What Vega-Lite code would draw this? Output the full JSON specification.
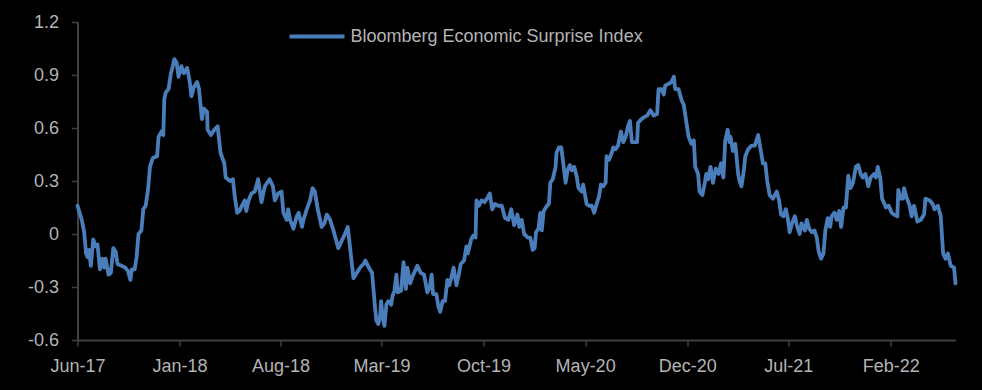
{
  "$schema": "https://vega.github.io/schema/vega-lite/v6.json",
  "width": 878,
  "height": 318,
  "autosize": {"type": "none"},
  "padding": {"left": 77.5, "top": 22, "right": 26.5, "bottom": 50},
  "background": "#000000",
  "config": {
    "view": {"stroke": null},
    "font": "Liberation Sans"
  },
  "data": {
    "values": [
      {"d":"2017-06-01","v":0.16},{"d":"2017-06-10","v":0.08},{"d":"2017-06-15","v":0.01},{"d":"2017-06-19","v":-0.11},{"d":"2017-06-22","v":-0.13},{"d":"2017-06-25","v":-0.09},{"d":"2017-06-29","v":-0.18},
      {"d":"2017-07-04","v":-0.03},{"d":"2017-07-09","v":-0.07},{"d":"2017-07-13","v":-0.06},{"d":"2017-07-18","v":-0.2},{"d":"2017-07-23","v":-0.14},{"d":"2017-07-27","v":-0.19},{"d":"2017-07-30","v":-0.14},
      {"d":"2017-08-05","v":-0.23},{"d":"2017-08-10","v":-0.22},{"d":"2017-08-15","v":-0.08},{"d":"2017-08-20","v":-0.1},{"d":"2017-08-24","v":-0.17},
      {"d":"2017-09-01","v":-0.18},{"d":"2017-09-09","v":-0.19},{"d":"2017-09-15","v":-0.21},{"d":"2017-09-20","v":-0.26},{"d":"2017-09-23","v":-0.2},{"d":"2017-09-29","v":-0.2},
      {"d":"2017-10-03","v":-0.13},{"d":"2017-10-07","v":0.0},{"d":"2017-10-13","v":0.02},{"d":"2017-10-17","v":0.14},{"d":"2017-10-22","v":0.16},{"d":"2017-10-27","v":0.25},{"d":"2017-10-31","v":0.38},
      {"d":"2017-11-06","v":0.43},{"d":"2017-11-15","v":0.44},{"d":"2017-11-18","v":0.55},{"d":"2017-11-24","v":0.58},{"d":"2017-11-28","v":0.56},{"d":"2017-11-30","v":0.76},
      {"d":"2017-12-03","v":0.8},{"d":"2017-12-09","v":0.82},{"d":"2017-12-14","v":0.91},{"d":"2017-12-18","v":0.95},{"d":"2017-12-21","v":0.99},{"d":"2017-12-26","v":0.97},{"d":"2017-12-30","v":0.89},
      {"d":"2018-01-05","v":0.95},{"d":"2018-01-10","v":0.91},{"d":"2018-01-17","v":0.94},{"d":"2018-01-22","v":0.87},{"d":"2018-01-26","v":0.78},{"d":"2018-01-31","v":0.83},
      {"d":"2018-02-07","v":0.86},{"d":"2018-02-11","v":0.82},{"d":"2018-02-17","v":0.65},{"d":"2018-02-21","v":0.71},{"d":"2018-02-28","v":0.69},
      {"d":"2018-03-01","v":0.59},{"d":"2018-03-08","v":0.56},{"d":"2018-03-15","v":0.59},{"d":"2018-03-22","v":0.61},{"d":"2018-03-28","v":0.46},
      {"d":"2018-04-05","v":0.4},{"d":"2018-04-08","v":0.32},{"d":"2018-04-17","v":0.3},{"d":"2018-04-23","v":0.31},{"d":"2018-04-27","v":0.21},
      {"d":"2018-05-02","v":0.12},{"d":"2018-05-07","v":0.13},{"d":"2018-05-12","v":0.16},{"d":"2018-05-18","v":0.19},{"d":"2018-05-21","v":0.13},{"d":"2018-05-26","v":0.19},
      {"d":"2018-06-01","v":0.23},{"d":"2018-06-08","v":0.24},{"d":"2018-06-15","v":0.31},{"d":"2018-06-22","v":0.18},{"d":"2018-06-29","v":0.27},
      {"d":"2018-07-09","v":0.31},{"d":"2018-07-16","v":0.27},{"d":"2018-07-20","v":0.19},{"d":"2018-07-27","v":0.23},
      {"d":"2018-08-03","v":0.24},{"d":"2018-08-07","v":0.12},{"d":"2018-08-14","v":0.08},{"d":"2018-08-17","v":0.14},{"d":"2018-08-21","v":0.08},{"d":"2018-08-28","v":0.03},
      {"d":"2018-09-04","v":0.1},{"d":"2018-09-08","v":0.12},{"d":"2018-09-15","v":0.04},{"d":"2018-09-18","v":0.08},{"d":"2018-09-25","v":0.14},
      {"d":"2018-10-02","v":0.19},{"d":"2018-10-07","v":0.26},{"d":"2018-10-12","v":0.24},{"d":"2018-10-18","v":0.14},{"d":"2018-10-23","v":0.08},{"d":"2018-10-26","v":0.04},
      {"d":"2018-11-01","v":0.06},{"d":"2018-11-06","v":0.11},{"d":"2018-11-13","v":0.08},{"d":"2018-11-20","v":0.02},{"d":"2018-11-27","v":-0.05},{"d":"2018-11-30","v":-0.08},
      {"d":"2018-12-07","v":-0.04},{"d":"2018-12-14","v":0.0},{"d":"2018-12-20","v":0.04},{"d":"2018-12-27","v":-0.13},
      {"d":"2019-01-01","v":-0.25},{"d":"2019-01-08","v":-0.22},{"d":"2019-01-15","v":-0.19},{"d":"2019-01-22","v":-0.17},{"d":"2019-01-26","v":-0.15},
      {"d":"2019-02-02","v":-0.19},{"d":"2019-02-09","v":-0.22},{"d":"2019-02-15","v":-0.41},{"d":"2019-02-18","v":-0.49},{"d":"2019-02-22","v":-0.51},{"d":"2019-02-26","v":-0.46},{"d":"2019-02-28","v":-0.38},
      {"d":"2019-03-03","v":-0.47},{"d":"2019-03-07","v":-0.52},{"d":"2019-03-11","v":-0.4},{"d":"2019-03-15","v":-0.38},{"d":"2019-03-21","v":-0.4},{"d":"2019-03-24","v":-0.35},{"d":"2019-03-28","v":-0.32},
      {"d":"2019-04-01","v":-0.23},{"d":"2019-04-04","v":-0.33},{"d":"2019-04-11","v":-0.32},{"d":"2019-04-16","v":-0.16},{"d":"2019-04-21","v":-0.31},{"d":"2019-04-24","v":-0.19},{"d":"2019-04-30","v":-0.28},
      {"d":"2019-05-05","v":-0.24},{"d":"2019-05-15","v":-0.18},{"d":"2019-05-22","v":-0.22},{"d":"2019-05-29","v":-0.23},
      {"d":"2019-06-05","v":-0.33},{"d":"2019-06-10","v":-0.3},{"d":"2019-06-14","v":-0.23},{"d":"2019-06-17","v":-0.34},{"d":"2019-06-24","v":-0.34},{"d":"2019-06-28","v":-0.41},
      {"d":"2019-07-02","v":-0.44},{"d":"2019-07-07","v":-0.38},{"d":"2019-07-12","v":-0.38},{"d":"2019-07-17","v":-0.26},{"d":"2019-07-21","v":-0.29},{"d":"2019-07-25","v":-0.25},{"d":"2019-07-30","v":-0.19},
      {"d":"2019-08-05","v":-0.29},{"d":"2019-08-10","v":-0.23},{"d":"2019-08-14","v":-0.17},{"d":"2019-08-21","v":-0.15},{"d":"2019-08-26","v":-0.07},{"d":"2019-08-29","v":-0.11},
      {"d":"2019-09-05","v":-0.03},{"d":"2019-09-09","v":-0.01},{"d":"2019-09-14","v":-0.02},{"d":"2019-09-16","v":0.19},{"d":"2019-09-21","v":0.16},{"d":"2019-09-27","v":0.19},
      {"d":"2019-10-03","v":0.18},{"d":"2019-10-10","v":0.21},{"d":"2019-10-14","v":0.23},{"d":"2019-10-19","v":0.14},{"d":"2019-10-25","v":0.17},{"d":"2019-10-31","v":0.16},
      {"d":"2019-11-08","v":0.16},{"d":"2019-11-15","v":0.09},{"d":"2019-11-22","v":0.08},{"d":"2019-11-28","v":0.14},
      {"d":"2019-12-04","v":0.05},{"d":"2019-12-11","v":0.11},{"d":"2019-12-15","v":0.04},{"d":"2019-12-20","v":0.08},{"d":"2019-12-25","v":0.0},
      {"d":"2020-01-02","v":-0.02},{"d":"2020-01-07","v":-0.02},{"d":"2020-01-12","v":-0.09},{"d":"2020-01-16","v":-0.08},{"d":"2020-01-19","v":0.01},{"d":"2020-01-24","v":0.03},{"d":"2020-01-28","v":0.12},{"d":"2020-01-31","v":0.02},
      {"d":"2020-02-04","v":0.13},{"d":"2020-02-11","v":0.16},{"d":"2020-02-15","v":0.17},{"d":"2020-02-18","v":0.29},{"d":"2020-02-23","v":0.31},{"d":"2020-02-29","v":0.38},
      {"d":"2020-03-02","v":0.46},{"d":"2020-03-07","v":0.49},{"d":"2020-03-12","v":0.49},{"d":"2020-03-18","v":0.36},{"d":"2020-03-21","v":0.29},{"d":"2020-03-25","v":0.36},{"d":"2020-03-30","v":0.39},
      {"d":"2020-04-03","v":0.36},{"d":"2020-04-08","v":0.38},{"d":"2020-04-13","v":0.33},{"d":"2020-04-17","v":0.26},{"d":"2020-04-24","v":0.24},{"d":"2020-04-27","v":0.28},
      {"d":"2020-05-04","v":0.17},{"d":"2020-05-09","v":0.16},{"d":"2020-05-15","v":0.16},{"d":"2020-05-20","v":0.12},{"d":"2020-05-25","v":0.17},{"d":"2020-05-30","v":0.21},
      {"d":"2020-06-03","v":0.28},{"d":"2020-06-08","v":0.27},{"d":"2020-06-13","v":0.29},{"d":"2020-06-15","v":0.44},{"d":"2020-06-20","v":0.42},{"d":"2020-06-26","v":0.46},{"d":"2020-06-29","v":0.49},
      {"d":"2020-07-04","v":0.48},{"d":"2020-07-09","v":0.5},{"d":"2020-07-15","v":0.58},{"d":"2020-07-20","v":0.52},{"d":"2020-07-25","v":0.55},{"d":"2020-07-30","v":0.61},
      {"d":"2020-08-03","v":0.64},{"d":"2020-08-07","v":0.52},{"d":"2020-08-18","v":0.52},{"d":"2020-08-20","v":0.63},{"d":"2020-08-27","v":0.65},
      {"d":"2020-09-01","v":0.66},{"d":"2020-09-08","v":0.67},{"d":"2020-09-15","v":0.7},{"d":"2020-09-22","v":0.67},{"d":"2020-09-29","v":0.68},
      {"d":"2020-10-02","v":0.82},{"d":"2020-10-08","v":0.82},{"d":"2020-10-13","v":0.79},{"d":"2020-10-16","v":0.84},{"d":"2020-10-23","v":0.85},{"d":"2020-10-29","v":0.86},
      {"d":"2020-11-03","v":0.89},{"d":"2020-11-06","v":0.82},{"d":"2020-11-13","v":0.82},{"d":"2020-11-19","v":0.76},{"d":"2020-11-24","v":0.73},{"d":"2020-11-29","v":0.64},
      {"d":"2020-12-04","v":0.55},{"d":"2020-12-10","v":0.51},{"d":"2020-12-15","v":0.53},{"d":"2020-12-18","v":0.38},{"d":"2020-12-24","v":0.34},{"d":"2020-12-27","v":0.24},
      {"d":"2021-01-02","v":0.22},{"d":"2021-01-07","v":0.29},{"d":"2021-01-10","v":0.34},{"d":"2021-01-14","v":0.31},{"d":"2021-01-19","v":0.38},{"d":"2021-01-24","v":0.29},{"d":"2021-01-30","v":0.37},
      {"d":"2021-02-05","v":0.34},{"d":"2021-02-10","v":0.4},{"d":"2021-02-15","v":0.32},{"d":"2021-02-19","v":0.53},{"d":"2021-02-24","v":0.59},{"d":"2021-02-28","v":0.52},
      {"d":"2021-03-02","v":0.55},{"d":"2021-03-07","v":0.47},{"d":"2021-03-12","v":0.51},{"d":"2021-03-18","v":0.34},{"d":"2021-03-21","v":0.3},{"d":"2021-03-25","v":0.27},{"d":"2021-03-30","v":0.36},
      {"d":"2021-04-02","v":0.44},{"d":"2021-04-08","v":0.48},{"d":"2021-04-15","v":0.5},{"d":"2021-04-22","v":0.5},{"d":"2021-04-29","v":0.56},
      {"d":"2021-05-04","v":0.48},{"d":"2021-05-09","v":0.4},{"d":"2021-05-14","v":0.4},{"d":"2021-05-18","v":0.3},{"d":"2021-05-23","v":0.22},{"d":"2021-05-30","v":0.2},
      {"d":"2021-06-07","v":0.24},{"d":"2021-06-12","v":0.19},{"d":"2021-06-16","v":0.11},{"d":"2021-06-21","v":0.1},{"d":"2021-06-26","v":0.14},{"d":"2021-06-30","v":0.09},
      {"d":"2021-07-04","v":0.01},{"d":"2021-07-09","v":0.06},{"d":"2021-07-15","v":0.1},{"d":"2021-07-20","v":0.04},{"d":"2021-07-25","v":0.0},{"d":"2021-07-29","v":0.06},
      {"d":"2021-08-05","v":0.02},{"d":"2021-08-09","v":0.08},{"d":"2021-08-14","v":0.03},{"d":"2021-08-20","v":0.01},{"d":"2021-08-25","v":0.02},{"d":"2021-08-30","v":-0.02},
      {"d":"2021-09-03","v":-0.1},{"d":"2021-09-08","v":-0.14},{"d":"2021-09-13","v":-0.11},{"d":"2021-09-17","v":0.02},{"d":"2021-09-22","v":0.09},{"d":"2021-09-27","v":0.04},{"d":"2021-09-30","v":0.1},
      {"d":"2021-10-06","v":0.12},{"d":"2021-10-11","v":0.08},{"d":"2021-10-16","v":0.13},{"d":"2021-10-20","v":0.04},{"d":"2021-10-25","v":0.15},{"d":"2021-10-30","v":0.15},
      {"d":"2021-11-04","v":0.33},{"d":"2021-11-09","v":0.26},{"d":"2021-11-14","v":0.29},{"d":"2021-11-20","v":0.38},{"d":"2021-11-25","v":0.39},{"d":"2021-11-30","v":0.34},
      {"d":"2021-12-04","v":0.32},{"d":"2021-12-10","v":0.34},{"d":"2021-12-16","v":0.27},{"d":"2021-12-21","v":0.32},{"d":"2021-12-28","v":0.34},
      {"d":"2022-01-01","v":0.32},{"d":"2022-01-05","v":0.38},{"d":"2022-01-10","v":0.32},{"d":"2022-01-14","v":0.2},{"d":"2022-01-19","v":0.17},{"d":"2022-01-22","v":0.15},{"d":"2022-01-28","v":0.16},
      {"d":"2022-02-03","v":0.12},{"d":"2022-02-08","v":0.11},{"d":"2022-02-15","v":0.1},{"d":"2022-02-17","v":0.25},{"d":"2022-02-22","v":0.2},{"d":"2022-02-27","v":0.2},
      {"d":"2022-03-01","v":0.26},{"d":"2022-03-06","v":0.21},{"d":"2022-03-13","v":0.16},{"d":"2022-03-17","v":0.1},{"d":"2022-03-22","v":0.16},{"d":"2022-03-29","v":0.07},
      {"d":"2022-04-05","v":0.08},{"d":"2022-04-12","v":0.11},{"d":"2022-04-15","v":0.2},{"d":"2022-04-24","v":0.19},{"d":"2022-04-30","v":0.17},
      {"d":"2022-05-04","v":0.14},{"d":"2022-05-11","v":0.16},{"d":"2022-05-17","v":0.1},{"d":"2022-05-22","v":-0.11},{"d":"2022-05-27","v":-0.14},
      {"d":"2022-06-01","v":-0.11},{"d":"2022-06-07","v":-0.18},{"d":"2022-06-14","v":-0.19},{"d":"2022-06-17","v":-0.28}
    ]
  },
  "transform": [{"calculate": "'Bloomberg Economic Surprise Index'", "as": "series"}],
  "mark": {"type": "line", "strokeWidth": 3.8, "strokeJoin": "round", "strokeCap": "round", "clip": false},
  "encoding": {
    "x": {
      "field": "d",
      "type": "temporal",
      "scale": {"type": "utc", "domain": [{"year": 2017, "month": 6, "date": 1, "utc": true}, {"year": 2022, "month": 6, "date": 17, "utc": true}]},
      "axis": {
        "title": null,
        "values": [
          {"year": 2017, "month": 6, "date": 1, "utc": true},
          {"year": 2018, "month": 1, "date": 1, "utc": true},
          {"year": 2018, "month": 8, "date": 1, "utc": true},
          {"year": 2019, "month": 3, "date": 1, "utc": true},
          {"year": 2019, "month": 10, "date": 1, "utc": true},
          {"year": 2020, "month": 5, "date": 1, "utc": true},
          {"year": 2020, "month": 12, "date": 1, "utc": true},
          {"year": 2021, "month": 7, "date": 1, "utc": true},
          {"year": 2022, "month": 2, "date": 1, "utc": true}
        ],
        "labelExpr": "utcFormat(datum.value, '%b-%y')",
        "grid": false,
        "domainColor": "#404040",
        "domainWidth": 2,
        "tickColor": "#404040",
        "tickWidth": 1.5,
        "tickSize": 6,
        "labelColor": "#b4b4b4",
        "labelFontSize": 18,
        "labelFont": "Liberation Sans",
        "labelPadding": 11,
        "labelFlush": false,
        "labelOverlap": false
      }
    },
    "y": {
      "field": "v",
      "type": "quantitative",
      "scale": {"domain": [-0.6, 1.2], "nice": false, "zero": false},
      "axis": {
        "title": null,
        "values": [-0.6, -0.3, 0, 0.3, 0.6, 0.9, 1.2],
        "labelExpr": "datum.value == 0 ? '0' : (datum.value < 0 ? '-' + format(-datum.value, '.1f') : format(datum.value, '.1f'))",
        "grid": false,
        "domainColor": "#404040",
        "domainWidth": 2,
        "tickColor": "#404040",
        "tickWidth": 1.5,
        "tickSize": 6,
        "labelColor": "#b4b4b4",
        "labelFontSize": 18,
        "labelFont": "Liberation Sans",
        "labelPadding": 13,
        "labelFlush": false,
        "labelOverlap": false
      }
    },
    "color": {
      "field": "series",
      "type": "nominal",
      "scale": {"range": ["#4a7ebb"]},
      "legend": {
        "title": null,
        "orient": "none",
        "legendX": 210,
        "legendY": -15,
        "padding": 0,
        "symbolType": "stroke",
        "symbolSize": 3025,
        "symbolStrokeWidth": 3.8,
        "labelColor": "#b4b4b4",
        "labelFontSize": 18,
        "labelFont": "Liberation Sans",
        "labelOffset": 4,
        "labelLimit": 0
      }
    }
  }
}
